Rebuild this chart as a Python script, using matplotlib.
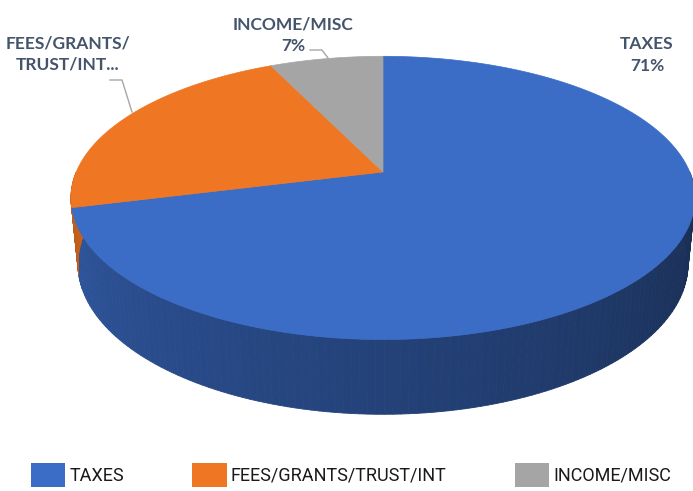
import numpy as np
import matplotlib.pyplot as plt
import matplotlib.colors as mcolors
from matplotlib.patches import Polygon, Patch

labels = ['TAXES', 'FEES/GRANTS/TRUST/INT', 'INCOME/MISC']
short_labels = ['TAXES', 'FEES/GRANTS/\nTRUST/INT...', 'INCOME/MISC']
values = [71, 22, 7]
colors = ['#3B6CC6', '#EF7622', '#A5A5A5']

W, H = 693, 491
fig = plt.figure(figsize=(6.93, 4.91), dpi=100)
ax = fig.add_axes([0, 0, 1, 1])
ax.set_xlim(0, W)
ax.set_ylim(H, 0)
ax.axis('off')

# simple perspective camera for the 3d pie
elev = np.radians(26.5)
dist = 4.89
scale = 1500
cx, cy = 383, 172
depth = 0.242


def project(theta, z):
    x = np.cos(theta)
    y = np.sin(theta)
    d = dist + y * np.cos(elev) - z * np.sin(elev)
    sx = x / d
    sy = (y * np.sin(elev) + z * np.cos(elev)) / d
    return cx + scale * sx, cy - scale * sy


def shade(color, f):
    r, g, b = mcolors.to_rgb(color)
    return (r * f, g * f, b * f)


total = sum(values)
starts = []
ends = []
a = 90.0
for v in values:
    starts.append(a)
    a = a - v / total * 360
    ends.append(a)

# side walls (front half only)
for s, e, c in zip(starts, ends, colors):
    t = np.radians(np.linspace(s, e, 200))
    for t0, t1 in zip(t[:-1], t[1:]):
        tm = (t0 + t1) / 2
        if np.sin(tm) >= 0:
            continue
        frac = ((np.degrees(tm) % 360) - 180) / 180
        col = shade(c, 0.82 - 0.42 * frac)
        x0, y0 = project(t0, 0)
        x1, y1 = project(t1, 0)
        x2, y2 = project(t1, -depth)
        x3, y3 = project(t0, -depth)
        ax.add_patch(Polygon([(x0, y0), (x1, y1), (x2, y2), (x3, y3)],
                             closed=True, facecolor=col, edgecolor=col, lw=0.6))

# top faces
for s, e, c in zip(starts, ends, colors):
    t = np.radians(np.linspace(s, e, 200))
    px, py = project(t, 0)
    pts = [(cx, cy)] + list(zip(px, py))
    ax.add_patch(Polygon(pts, closed=True, facecolor=c, edgecolor=c, lw=0.5))

# data labels
lab_font = dict(family=['Lato', 'DejaVu Sans'], fontsize=12.5, fontweight='bold',
                color='#44546A', ha='center', va='center', linespacing=1.4)
ax.text(647, 55, f'{short_labels[0]}\n{values[0]}%', **lab_font)
ax.text(68, 54, short_labels[1], **lab_font)
ax.text(293, 35, f'{short_labels[2]}\n{values[2]}%', **lab_font)

# leader lines
ax.plot([310, 322, 328], [50, 50, 58], color='#A6A6A6', lw=1)
ax.plot([110, 122, 132], [80, 80, 112], color='#A6A6A6', lw=1)

handles = [Patch(facecolor=c, edgecolor='none') for c in colors]
fig.legend(handles, labels, loc='center', bbox_to_anchor=(351 / W, 1 - 475 / H),
           ncol=3, frameon=False, handlelength=1.9, handleheight=1.7,
           handletextpad=0.22, columnspacing=3.8, borderpad=0,
           prop={'family': 'Roboto', 'size': 13},
           labelcolor='#1A1A1A')

plt.savefig('out.png', dpi=100)
